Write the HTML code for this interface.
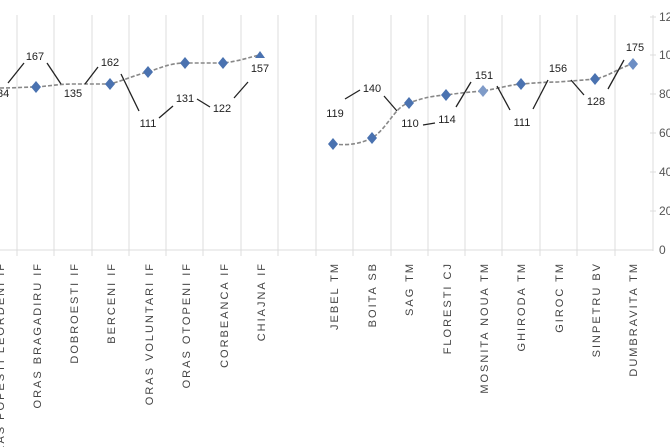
<!DOCTYPE html>
<html><head><meta charset="utf-8"><style>
html,body{margin:0;padding:0;background:#fff;width:670px;height:447px;overflow:hidden}
svg{display:block;font-family:"Liberation Sans",sans-serif}
</style></head><body>
<svg width="670" height="447" viewBox="0 0 670 447">
<g stroke="#dcdcdc" stroke-width="1">
<line x1="17" y1="15" x2="17" y2="256"/><line x1="54" y1="15" x2="54" y2="256"/><line x1="92" y1="15" x2="92" y2="256"/><line x1="129" y1="15" x2="129" y2="256"/><line x1="166" y1="15" x2="166" y2="256"/><line x1="203" y1="15" x2="203" y2="256"/><line x1="241" y1="15" x2="241" y2="256"/><line x1="278" y1="15" x2="278" y2="256"/><line x1="316" y1="15" x2="316" y2="256"/><line x1="353" y1="15" x2="353" y2="256"/><line x1="391" y1="15" x2="391" y2="256"/><line x1="428" y1="15" x2="428" y2="256"/><line x1="465" y1="15" x2="465" y2="256"/><line x1="502" y1="15" x2="502" y2="256"/><line x1="540" y1="15" x2="540" y2="256"/><line x1="577" y1="15" x2="577" y2="256"/><line x1="615" y1="15" x2="615" y2="256"/>
<line x1="0" y1="250" x2="653" y2="250"/>
<line x1="653" y1="15" x2="653" y2="251"/>
<line x1="650" y1="17" x2="656" y2="17"/><line x1="650" y1="55" x2="656" y2="55"/><line x1="650" y1="94" x2="656" y2="94"/><line x1="650" y1="133" x2="656" y2="133"/><line x1="650" y1="172" x2="656" y2="172"/><line x1="650" y1="211" x2="656" y2="211"/>
</g>
<g font-size="12" fill="#555">
<text x="659" y="21">120</text><text x="659" y="59">100</text><text x="659" y="98">80</text><text x="659" y="137">60</text><text x="659" y="176">40</text><text x="659" y="215">20</text><text x="659" y="254">0</text>
</g>
<g fill="none" stroke="#888" stroke-width="1.6" stroke-dasharray="4,2">
<path d="M0,88 C15,88 25,87 36,87 C50,86 60,84 73,84 C90,84 100,84 110,84 C125,80 135,75 148,72 C160,68 170,63 185,63 L223,63 C240,61 250,57 260,55"/>
<path d="M333,144 C350,146 362,143 372,138 C388,128 395,106 409,103 C420,99 430,96 446,95 C460,93 470,92 483,91 C500,88 510,85 521,84 C535,83 545,82 558,82 C570,81 585,80 595,79 C610,76 620,67 633,64"/>
</g>
<g fill="#4a72b0">
<path d="M36,81 l5,6 l-5,6 l-5,-6z"/><path d="M110,78 l5,6 l-5,6 l-5,-6z"/><path d="M148,66 l5,6 l-5,6 l-5,-6z"/><path d="M185,57 l5,6 l-5,6 l-5,-6z"/><path d="M223,57 l5,6 l-5,6 l-5,-6z"/><path d="M260,51 l5,7 l-10,0z"/>
<path d="M333,138 l5,6 l-5,6 l-5,-6z"/><path d="M372,132 l5,6 l-5,6 l-5,-6z"/><path d="M409,97 l5,6 l-5,6 l-5,-6z"/><path d="M446,89 l5,6 l-5,6 l-5,-6z"/><path d="M483,85 l5,6 l-5,6 l-5,-6z" fill="#7f9bc8"/><path d="M521,78 l5,6 l-5,6 l-5,-6z"/><path d="M595,73 l5,6 l-5,6 l-5,-6z"/><path d="M633,58 l5,6 l-5,6 l-5,-6z" fill="#6d8ec4"/>
</g>
<g stroke="#222" stroke-width="1.3">
<line x1="8" y1="83" x2="24" y2="63"/><line x1="47" y1="63" x2="61" y2="84"/><line x1="85" y1="84" x2="98" y2="67"/><line x1="121" y1="74" x2="139" y2="111"/><line x1="159" y1="118" x2="173" y2="106"/><line x1="197" y1="99" x2="210" y2="107"/><line x1="234" y1="98" x2="248" y2="82"/>
<line x1="345" y1="99" x2="360" y2="90"/><line x1="384" y1="96" x2="397" y2="111"/><line x1="423" y1="125" x2="435" y2="123"/><line x1="456" y1="107" x2="471" y2="82"/><line x1="497" y1="86" x2="510" y2="110"/><line x1="533" y1="109" x2="548" y2="80"/><line x1="571" y1="80" x2="584" y2="95"/><line x1="608" y1="89" x2="624" y2="60"/>
</g>
<g font-size="11" fill="#222" text-anchor="middle">
<text x="0" y="97">134</text><text x="35" y="60">167</text><text x="73" y="97">135</text><text x="110" y="66">162</text><text x="148" y="127">111</text><text x="185" y="102">131</text><text x="222" y="112">122</text><text x="260" y="72">157</text>
<text x="335" y="117">119</text><text x="372" y="92">140</text><text x="410" y="127">110</text><text x="447" y="123">114</text><text x="484" y="79">151</text><text x="522" y="126">111</text><text x="558" y="72">156</text><text x="596" y="105">128</text><text x="635" y="51">175</text>
</g>
<g font-size="11" fill="#444" letter-spacing="2" text-anchor="end">
<text transform="translate(4,262) rotate(-90)">ORAS POPESTI LEORDENI IF</text>
<text transform="translate(41,262) rotate(-90)">ORAS BRAGADIRU IF</text>
<text transform="translate(78,262) rotate(-90)">DOBROESTI IF</text>
<text transform="translate(115,262) rotate(-90)">BERCENI IF</text>
<text transform="translate(153,262) rotate(-90)">ORAS VOLUNTARI IF</text>
<text transform="translate(190,262) rotate(-90)">ORAS OTOPENI IF</text>
<text transform="translate(228,262) rotate(-90)">CORBEANCA IF</text>
<text transform="translate(265,262) rotate(-90)">CHIAJNA IF</text>
<text transform="translate(338,262) rotate(-90)">JEBEL TM</text>
<text transform="translate(376,262) rotate(-90)">BOITA SB</text>
<text transform="translate(413,262) rotate(-90)">SAG TM</text>
<text transform="translate(451,262) rotate(-90)">FLORESTI CJ</text>
<text transform="translate(488,262) rotate(-90)">MOSNITA NOUA TM</text>
<text transform="translate(525,262) rotate(-90)">GHIRODA TM</text>
<text transform="translate(563,262) rotate(-90)">GIROC TM</text>
<text transform="translate(600,262) rotate(-90)">SINPETRU BV</text>
<text transform="translate(637,262) rotate(-90)">DUMBRAVITA TM</text>
</g>
</svg>
</body></html>
